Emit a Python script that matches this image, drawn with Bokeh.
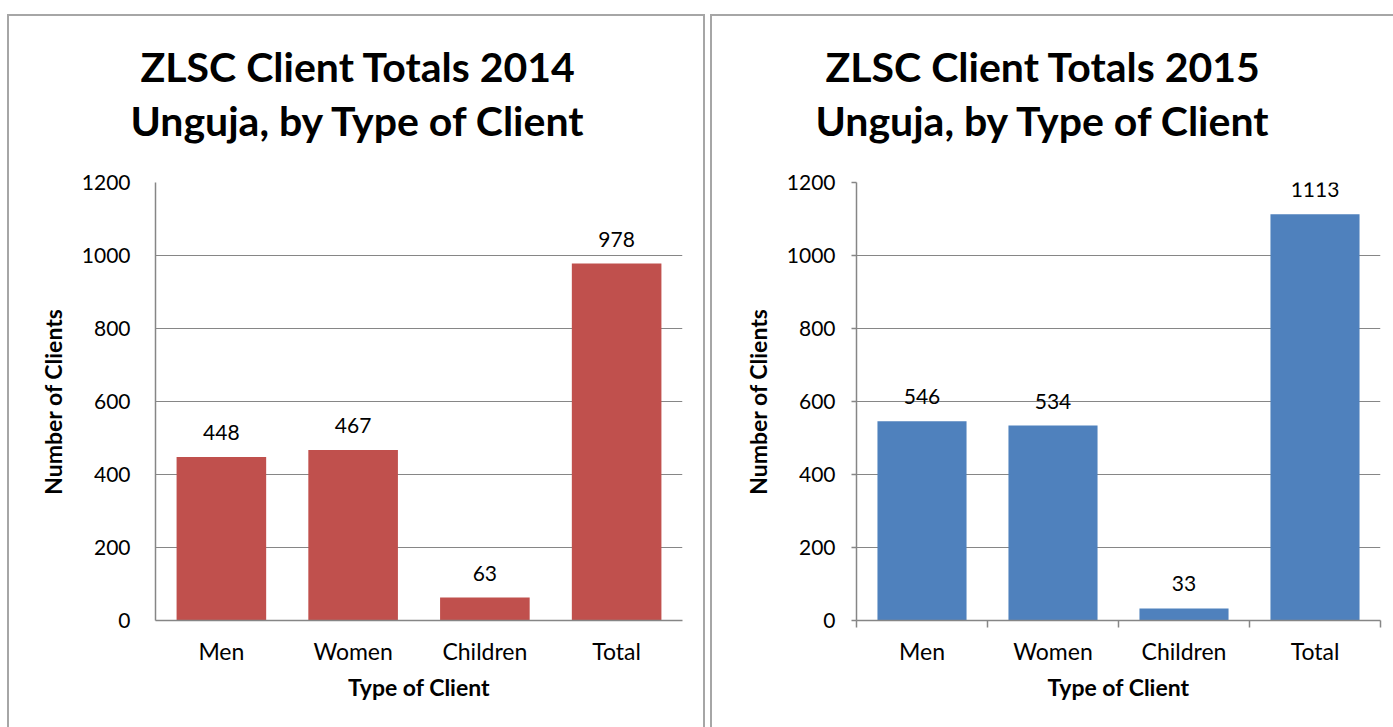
from bokeh.plotting import figure
from bokeh.models import (ColumnDataSource, FixedTicker, Range1d, Title, LabelSet, Spacer)
from bokeh.core.properties import value
from bokeh.layouts import row, column
from bokeh.embed import file_html
from bokeh.resources import INLINE

categories = ["Men", "Women", "Children", "Total"]
clients_2014 = [448, 467, 63, 978]
clients_2015 = [546, 534, 33, 1113]
title_2014 = ["ZLSC Client Totals 2014", "Unguja, by Type of Client"]
title_2015 = ["ZLSC Client Totals 2015", "Unguja, by Type of Client"]
y_ticks = [0, 200, 400, 600, 800, 1000, 1200]

FONT = "Lato"
GRID = "#868686"
BORDER = "2px solid #a6a6a6"


def make_chart(values, titles, color, width, fl, fr, ft, fb, title_offsets, ytick_out, xtick_out,
               ystandoff, xstandoff, border_right):
    idx = list(range(len(categories)))
    src = ColumnDataSource(dict(x=idx, top=values, lab=[str(v) for v in values]))
    styles = {"border-top": BORDER, "border-left": BORDER, "box-sizing": "border-box"}
    if border_right:
        styles["border-right"] = BORDER
    p = figure(width=width, height=713, output_backend="svg", toolbar_location=None,
               x_range=Range1d(-0.5, len(categories) - 0.5), y_range=Range1d(0, 1200),
               min_border_left=fl, min_border_right=fr, min_border_top=ft, min_border_bottom=fb,
               styles=styles)
    p.outline_line_color = None
    p.background_fill_color = "white"
    p.border_fill_color = "white"
    p.vbar(x="x", top="top", width=0.68, source=src, fill_color=color, line_color=None)

    p.xgrid.visible = False
    p.ygrid.ticker = FixedTicker(ticks=y_ticks)
    p.ygrid.grid_line_color = GRID
    p.ygrid.grid_line_width = 1

    xa = p.xaxis[0]
    xa.ticker = FixedTicker(ticks=idx, minor_ticks=[i - 0.5 for i in range(len(categories) + 1)])
    xa.major_label_overrides = {i: c for i, c in enumerate(categories)}
    xa.major_tick_out = 0
    xa.major_tick_in = 0
    xa.minor_tick_out = xtick_out
    xa.minor_tick_in = 0
    xa.minor_tick_line_color = GRID
    xa.minor_tick_line_width = 1.5
    xa.axis_line_color = GRID
    xa.axis_line_width = 1.5
    xa.major_label_text_font = FONT
    xa.major_label_text_font_size = "23px"
    xa.major_label_text_color = "black"
    xa.major_label_standoff = xstandoff
    xa.axis_label = "Type of Client"
    xa.axis_label_text_font = FONT
    xa.axis_label_text_font_size = "23px"
    xa.axis_label_text_font_style = "bold"
    xa.axis_label_text_color = "black"
    xa.axis_label_standoff = 5

    ya = p.yaxis[0]
    ya.ticker = FixedTicker(ticks=y_ticks)
    ya.minor_tick_out = 0
    ya.minor_tick_in = 0
    ya.major_tick_in = 0
    ya.major_tick_out = ytick_out
    ya.major_tick_line_color = GRID
    ya.major_tick_line_width = 1.5
    ya.axis_line_color = GRID
    ya.axis_line_width = 1.5
    ya.major_label_text_font = FONT
    ya.major_label_text_font_size = "21px"
    ya.major_label_text_color = "black"
    ya.major_label_standoff = ystandoff
    ya.axis_label = "Number of Clients"
    ya.axis_label_text_font = FONT
    ya.axis_label_text_font_size = "23px"
    ya.axis_label_text_font_style = "bold"
    ya.axis_label_text_color = "black"
    ya.axis_label_standoff = 12

    labels = LabelSet(x="x", y="top", text="lab", source=src, y_offset=17,
                      text_align="center", text_baseline="bottom",
                      text_font=value(FONT), text_font_size=value("21px"), text_color=value("black"))
    p.add_layout(labels)

    # second line first (closest to the frame), then the first line above it
    for t, off, standoff in [(titles[1], title_offsets[1], 75), (titles[0], title_offsets[0], -68)]:
        p.add_layout(Title(text=t, align="left", offset=off, standoff=standoff,
                           text_font=FONT, text_font_size="41px", text_font_style="bold",
                           text_color="black"), "above")
    return p


p1 = make_chart(clients_2014, title_2014, "#C0504D", 698, 146, 25, 162, 108,
                [-15, -25], 0, 0, 25, 16, True)
p2 = make_chart(clients_2015, title_2015, "#4F81BD", 683, 144, 15, 166, 109,
                [-31, -41], 5, 7, 16, 9, False)

layout = column(Spacer(height=14), row(Spacer(width=7), p1, Spacer(width=5), p2))
open("out.html", "w").write(file_html(layout, INLINE))
